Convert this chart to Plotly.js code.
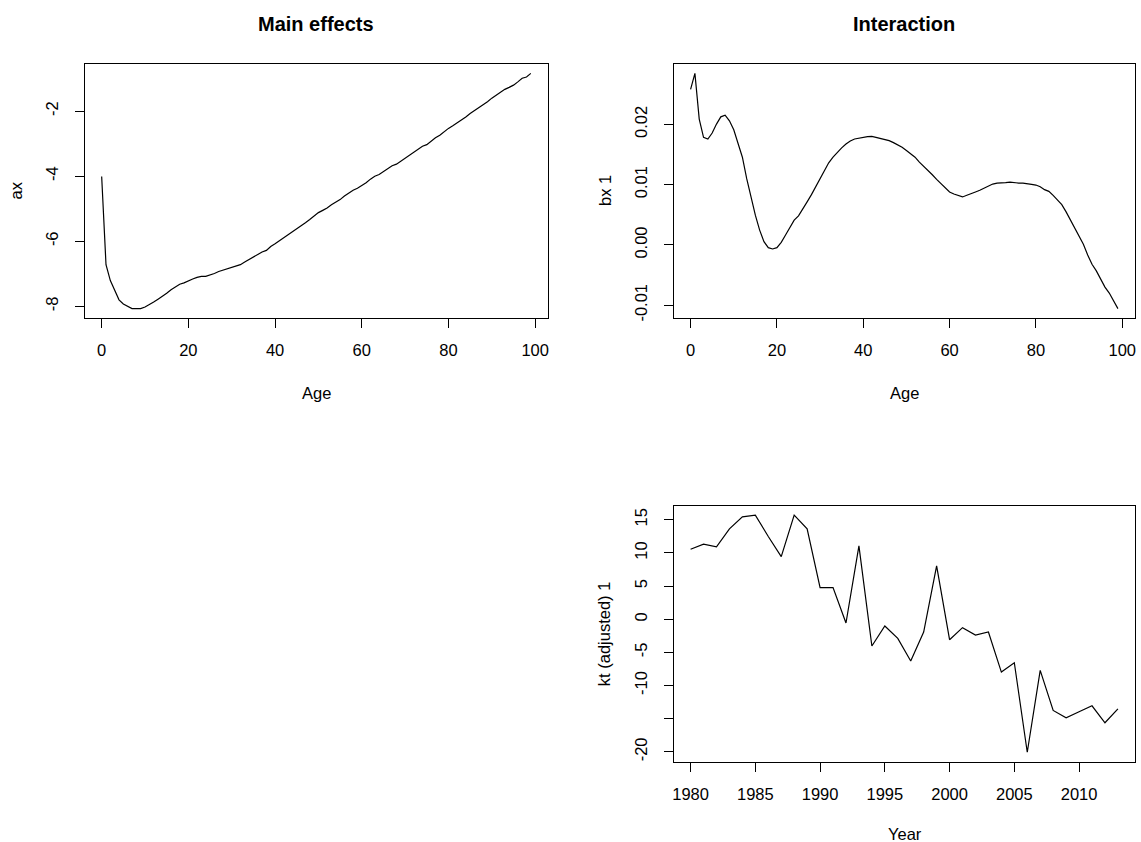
<!DOCTYPE html>
<html>
<head>
<meta charset="utf-8">
<script src="https://cdn.plot.ly/plotly-3.0.1.min.js"></script>
<style>html,body{margin:0;padding:0;background:#fff;}#chart{width:1141px;height:842px;}</style>
</head>
<body>
<div id="chart"></div>
<script>
// Ages 0..99
var ages = [];
for (var i = 0; i < 100; i++) ages.push(i);

// Main effects (ax)
var ax = [-4.01,-6.72,-7.21,-7.50,-7.80,-7.93,-8.01,-8.07,-8.07,-8.07,
  -8.02,-7.95,-7.87,-7.78,-7.70,-7.60,-7.49,-7.40,-7.32,-7.28,
  -7.21,-7.16,-7.11,-7.08,-7.08,-7.04,-6.99,-6.93,-6.89,-6.85,
  -6.81,-6.76,-6.72,-6.64,-6.56,-6.50,-6.42,-6.33,-6.28,-6.16,
  -6.08,-5.99,-5.90,-5.80,-5.70,-5.61,-5.52,-5.43,-5.33,-5.23,
  -5.12,-5.05,-4.98,-4.88,-4.80,-4.72,-4.61,-4.51,-4.43,-4.37,
  -4.29,-4.20,-4.09,-4.00,-3.95,-3.86,-3.78,-3.68,-3.63,-3.54,
  -3.45,-3.36,-3.28,-3.18,-3.08,-3.03,-2.91,-2.82,-2.74,-2.62,
  -2.53,-2.45,-2.36,-2.28,-2.18,-2.07,-1.98,-1.90,-1.80,-1.71,
  -1.60,-1.51,-1.41,-1.33,-1.27,-1.20,-1.10,-0.99,-0.95,-0.84];

// Interaction (bx 1)
var bx = [0.02582,0.02846,0.02088,0.01786,0.01758,0.01857,0.02005,0.02126,0.02154,0.02060,
  0.01912,0.01703,0.01456,0.01099,0.00769,0.00494,0.00247,0.00055,-0.00044,-0.00066,
  -0.00044,0.00044,0.00165,0.00286,0.00412,0.00484,0.00593,0.00714,0.00835,0.00962,
  0.01110,0.01236,0.01363,0.01456,0.01538,0.01610,0.01676,0.01725,0.01758,0.01775,
  0.01780,0.01797,0.01802,0.01786,0.01775,0.01758,0.01731,0.01698,0.01659,0.01621,
  0.01566,0.01511,0.01456,0.01374,0.01308,0.01236,0.01165,0.01088,0.01016,0.00934,
  0.00879,0.00846,0.00819,0.00797,0.00824,0.00857,0.00879,0.00907,0.00945,0.00978,
  0.01011,0.01027,0.01027,0.01033,0.01044,0.01033,0.01027,0.01027,0.01022,0.01005,
  0.00994,0.00967,0.00918,0.00890,0.00824,0.00742,0.00670,0.00549,0.00412,0.00286,
  0.00165,0.00011,-0.00165,-0.00319,-0.00429,-0.00560,-0.00698,-0.00797,-0.00923,-0.01055];

// Years and kt (adjusted) 1
var years = [1980,1981,1982,1983,1984,1985,1986,1987,1988,1989,1990,1991,1992,1993,1994,1995,1996,
  1997,1998,1999,2000,2001,2002,2003,2004,2005,2006,2007,2008,2009,2010,2011,2012,2013];
var kt = [10.57,11.32,10.92,13.64,15.45,15.70,12.48,9.46,15.70,13.64,4.78,4.78,-0.56,11.07,-4.03,-1.01,-2.88,
  -6.30,-1.92,8.05,-3.08,-1.26,-2.37,-1.92,-7.96,-6.55,-20.05,-7.71,-13.75,-14.86,-13.95,-13.05,-15.61,-13.50];

// Tick labels
var ageTicks = [0,20,40,60,80,100];
var axTicks = [-8,-6,-4,-2];
var bxTicks = [-0.01,0,0.01,0.02];
var bxTickText = ["-0.01","0.00","0.01","0.02"];
var yearTicks = [1980,1985,1990,1995,2000,2005,2010];
var ktTicks = [-20,-15,-10,-5,0,5,10,15];
var ktTickText = ["-20","","-10","-5","0","5","10","15"];

var titles = ["Main effects","Interaction"];
var xLabels = ["Age","Age","Year"];
var yLabels = ["ax","bx 1","kt (adjusted) 1"];

function pad(arr){
  var mn = Math.min.apply(null,arr), mx = Math.max.apply(null,arr), d=(mx-mn)*0.04;
  return [mn-d, mx+d];
}

var FONT = "Liberation Sans, Arial, sans-serif";
var FS = 16.5;
var line = {color:"black", width:1.2};

var traces = [
  {x: ages, y: ax, type:"scatter", mode:"lines", line: line, xaxis:"x", yaxis:"y", hoverinfo:"skip"},
  {x: ages, y: bx, type:"scatter", mode:"lines", line: line, xaxis:"x2", yaxis:"y2", hoverinfo:"skip"},
  {x: years, y: kt, type:"scatter", mode:"lines", line: line, xaxis:"x3", yaxis:"y3", hoverinfo:"skip"}
];

function xa(dom, anchor, range, tv, tt){
  return {domain: dom, anchor: anchor, range: range, tickvals: tv, ticktext: tt,
    tickmode:"array", showline:true, mirror:true, linecolor:"black", linewidth:1,
    ticks:"outside", ticklen:9, tickcolor:"black", tickwidth:1, showgrid:false, zeroline:false,
    tickfont:{family:FONT, size:FS, color:"black"}, ticklabelstandoff:8};
}
function ya(dom, anchor, range, tv, tt){
  return {domain: dom, anchor: anchor, range: range, tickvals: tv, ticktext: tt,
    tickmode:"array", showline:true, mirror:true, linecolor:"black", linewidth:1,
    ticks:"outside", ticklen:9, tickcolor:"black", tickwidth:1, showgrid:false, zeroline:false,
    tickangle:-90, tickfont:{family:FONT, size:FS, color:"black"}, ticklabelstandoff:10};
}

var W = 1141, H = 842;
var dx1 = [84.5/W, 548/W], dx2 = [673.5/W, 1135/W];
var dyTop = [1-318/H, 1-64/H], dyBot = [1-761.7/H, 1-505.7/H];

var ann = [];
function addAnn(text, px, py, size, bold, angle){
  ann.push({text: bold ? "<b>"+text+"</b>" : text, xref:"paper", yref:"paper",
    x: px/W, y: 1-py/H, xanchor:"center", yanchor:"middle", showarrow:false,
    textangle: angle||0, font:{family:FONT, size:size, color:"black"}});
}
addAnn(titles[0], 316.3, 24, 20, true);
addAnn(titles[1], 904.2, 24, 20, true);
addAnn(xLabels[0], 316.3, 393, FS);
addAnn(xLabels[1], 904.2, 393, FS);
addAnn(xLabels[2], 904.5, 834, FS);
addAnn(yLabels[0], 15.5, 191, FS, false, -90);
addAnn(yLabels[1], 605, 191, FS, false, -90);
addAnn(yLabels[2], 603.5, 633.7, FS, false, -90);

var layout = {
  width: W, height: H, margin:{l:0,r:0,t:0,b:0},
  paper_bgcolor:"white", plot_bgcolor:"white", showlegend:false,
  font:{family:FONT, size:FS, color:"black"},
  xaxis: xa(dx1, "y", pad(ages), ageTicks, ageTicks.map(String)),
  yaxis: ya(dyTop, "x", pad(ax), axTicks, axTicks.map(String)),
  xaxis2: xa(dx2, "y2", pad(ages), ageTicks, ageTicks.map(String)),
  yaxis2: ya(dyTop, "x2", pad(bx), bxTicks, bxTickText),
  xaxis3: xa(dx2, "y3", pad(years), yearTicks, yearTicks.map(String)),
  yaxis3: ya(dyBot, "x3", pad(kt), ktTicks, ktTickText),
  annotations: ann
};

Plotly.newPlot("chart", traces, layout, {staticPlot:true, displayModeBar:false});
</script>
</body>
</html>
